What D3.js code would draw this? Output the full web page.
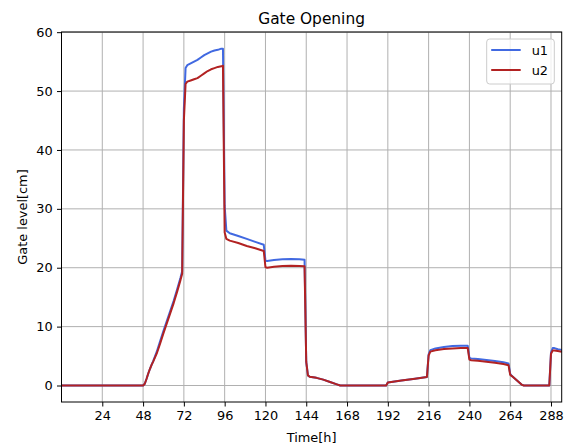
<!DOCTYPE html>
<html>
<head>
<meta charset="utf-8">
<script src="https://cdn.jsdelivr.net/npm/d3@7"></script>
<style>
  body { margin: 0; background: #fff; }
  svg { display: block; font-family: "DejaVu Sans", sans-serif; }
</style>
</head>
<body>
<svg></svg>
<script>
// time stamps [h]
var hours = [0, 48, 49, 50, 51, 52, 53, 54, 56, 58, 60, 62, 64, 66, 68, 70, 71, 72, 73, 74, 76, 78, 80, 82, 84, 86, 88, 90, 92, 94, 95,
    96, 97, 99, 104, 109, 114, 119, 120, 121, 125, 130, 135, 140, 143,
    144, 145, 146, 150, 154, 158, 162, 164, 191, 192, 200, 208, 215,
    216, 217, 220, 225, 230, 235, 239, 240, 241, 245, 250, 255, 260, 263,
    264, 265, 268, 271, 272, 287, 288, 289, 290, 292, 294.3];

// gate 1 opening [cm]
var u1 = [0, 0, 0.3, 1.1, 2.0, 2.8, 3.5, 4.2, 5.7, 7.5, 9.3, 11.0, 12.7, 14.4, 16.3, 18.3, 19.4, 47, 53.9, 54.4, 54.7, 55.0, 55.3, 55.7, 56.1, 56.4, 56.7, 56.9, 57.0, 57.2, 57.2,
    30.5, 26.3, 25.85, 25.4, 24.9, 24.4, 23.9, 21.2, 21.15, 21.3, 21.45, 21.5, 21.45, 21.35,
    4.0, 1.7, 1.5, 1.3, 1.0, 0.6, 0.2, 0, 0, 0.5, 0.85, 1.15, 1.45,
    5.3, 6.0, 6.3, 6.55, 6.7, 6.75, 6.75, 4.7, 4.6, 4.5, 4.35, 4.15, 3.95, 3.75,
    2.0, 1.6, 0.85, 0.1, 0, 0, 5.6, 6.35, 6.35, 6.15, 6.05];

// gate 2 opening [cm]
var u2 = [0, 0, 0.3, 1.1, 2.0, 2.8, 3.5, 4.1, 5.4, 7.1, 8.9, 10.6, 12.3, 14.0, 15.9, 17.9, 19.0, 45, 51.2, 51.6, 51.8, 52.0, 52.2, 52.6, 53.0, 53.4, 53.7, 53.9, 54.1, 54.2, 54.3,
    26.0, 24.9, 24.6, 24.2, 23.7, 23.3, 22.85, 20.1, 20.0, 20.15, 20.3, 20.35, 20.3, 20.25,
    4.0, 1.7, 1.5, 1.3, 1.0, 0.6, 0.2, 0, 0, 0.5, 0.85, 1.15, 1.45,
    5.1, 5.75, 6.0, 6.2, 6.3, 6.35, 6.35, 4.4, 4.3, 4.2, 4.05, 3.85, 3.65, 3.45,
    1.8, 1.6, 0.85, 0.1, 0, 0, 5.4, 5.95, 5.95, 5.85, 5.75];

var xTicks = [24, 48, 72, 96, 120, 144, 168, 192, 216, 240, 264, 288];
var yTicks = [0, 10, 20, 30, 40, 50, 60];

var seriesNames = ["u1", "u2"];
var seriesColors = ["#4169e1", "#b22222"];

document.addEventListener("DOMContentLoaded", function() {
    drawChart();
});

function drawChart() {
    var svgWidth = 569, svgHeight = 446;
    var margin = { top: 32, right: 7.3, bottom: 44, left: 61.5 };
    var width = svgWidth - margin.left - margin.right;
    var height = svgHeight - margin.top - margin.bottom;
    var fontSize = "12.9px";

    var svg = d3.select("svg")
        .attr("width", svgWidth)
        .attr("height", svgHeight);

    var g = svg.append("g")
        .attr("transform", "translate(" + margin.left + "," + margin.top + ")");

    var x = d3.scaleLinear().domain([0, 294.3]).range([0, width]);
    var y = d3.scaleLinear().domain([-2.8, 60.03]).range([height, 0]);

    // grid lines
    g.append("g")
        .selectAll("line")
        .data(xTicks)
        .join("line")
        .attr("x1", function(d) { return x(d); })
        .attr("x2", function(d) { return x(d); })
        .attr("y1", 0)
        .attr("y2", height)
        .attr("stroke", "#b0b0b0")
        .attr("stroke-width", 1);
    g.append("g")
        .selectAll("line")
        .data(yTicks)
        .join("line")
        .attr("x1", 0)
        .attr("x2", width)
        .attr("y1", function(d) { return y(d); })
        .attr("y2", function(d) { return y(d); })
        .attr("stroke", "#b0b0b0")
        .attr("stroke-width", 1);

    // the two gate lines
    var series = [u1, u2];
    var line = d3.line()
        .x(function(d, i) { return x(hours[i]); })
        .y(function(d) { return y(d); });

    series.forEach(function(vals, k) {
        g.append("path")
            .datum(vals)
            .attr("fill", "none")
            .attr("stroke", seriesColors[k])
            .attr("stroke-width", 2)
            .attr("stroke-linejoin", "round")
            .attr("d", line);
    });

    // axes
    var xAxis = g.append("g")
        .attr("transform", "translate(0," + height + ")")
        .call(d3.axisBottom(x).tickValues(xTicks).tickFormat(d3.format("d")).tickSize(4.5).tickPadding(4.3));
    var yAxis = g.append("g")
        .call(d3.axisLeft(y).tickValues(yTicks).tickFormat(d3.format("d")).tickSize(4.5).tickPadding(4.3));

    [xAxis, yAxis].forEach(function(ax) {
        ax.select(".domain").remove();
        ax.selectAll(".tick line").attr("stroke", "#000").attr("stroke-width", 1);
        ax.selectAll(".tick text")
            .attr("fill", "#000")
            .style("font-size", fontSize)
            .style("font-family", "DejaVu Sans");
    });

    // frame
    g.append("rect")
        .attr("width", width)
        .attr("height", height)
        .attr("fill", "none")
        .attr("stroke", "#000")
        .attr("stroke-width", 1);

    // title and labels
    svg.append("text")
        .attr("x", margin.left + width / 2)
        .attr("y", 23.5)
        .attr("text-anchor", "middle")
        .style("font-size", "15.4px")
        .text("Gate Opening");

    svg.append("text")
        .attr("x", margin.left + width / 2)
        .attr("y", 441.5)
        .attr("text-anchor", "middle")
        .style("font-size", fontSize)
        .text("Time[h]");

    svg.append("text")
        .attr("transform", "translate(26.8," + (margin.top + height / 2) + ") rotate(-90)")
        .attr("text-anchor", "middle")
        .style("font-size", fontSize)
        .text("Gate level[cm]");

    // legend
    var lg = svg.append("g").attr("transform", "translate(486.7,39)");
    lg.append("rect")
        .attr("width", 67.6)
        .attr("height", 45)
        .attr("rx", 3)
        .attr("fill", "#fff")
        .attr("fill-opacity", 0.8)
        .attr("stroke", "#ccc")
        .attr("stroke-width", 1);
    seriesNames.forEach(function(name, k) {
        lg.append("line")
            .attr("x1", 4.5)
            .attr("x2", 34)
            .attr("y1", 11 + k * 20)
            .attr("y2", 11 + k * 20)
            .attr("stroke", seriesColors[k])
            .attr("stroke-width", 2);
        lg.append("text")
            .attr("x", 45)
            .attr("y", 15.5 + k * 20)
            .style("font-size", fontSize)
            .text(name);
    });
}
</script>
</body>
</html>
